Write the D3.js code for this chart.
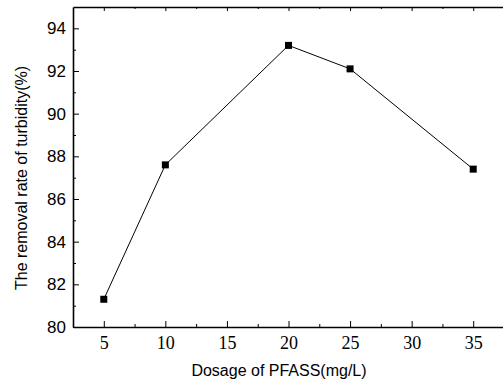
<!DOCTYPE html>
<html>
<head>
<meta charset="utf-8">
<script src="https://cdn.jsdelivr.net/npm/d3@7"></script>
<style>
  body { margin: 0; background: #fff; }
  svg { display: block; }
</style>
</head>
<body>
<div id="chart"></div>
<script>
const dosage = [5, 10, 20, 25, 35];
const removal = [81.3, 87.6, 93.2, 92.1, 87.4];
const xTicks = [5, 10, 15, 20, 25, 30, 35];
const xMinor = [7.5, 12.5, 17.5, 22.5, 27.5, 32.5];
const yTicks = [80, 82, 84, 86, 88, 90, 92, 94];
const yMinor = [81, 83, 85, 87, 89, 91, 93];

const width = 503, height = 383;
const margin = { top: 7, right: -1, bottom: 56, left: 73 };
const innerW = width - margin.left - margin.right;
const innerH = height - margin.top - margin.bottom;

const svg = d3.select("#chart").append("svg")
  .attr("width", width).attr("height", height);

const g = svg.append("g")
  .attr("transform", `translate(${margin.left},${margin.top})`);

const x = d3.scaleLinear().domain([2.5, 37.5]).range([0, innerW]);
const y = d3.scaleLinear().domain([80, 95]).range([innerH, 0]);

// bottom axis, ticks pointing in
const xAxis = g.append("g").attr("transform", `translate(0,${innerH})`)
  .call(d3.axisBottom(x).tickValues(xTicks).tickSizeInner(-6).tickSizeOuter(0).tickPadding(9));
xAxis.selectAll("text")
  .style("font-family", "'Liberation Serif', 'Times New Roman', serif")
  .style("font-size", "18px").attr("fill", "#000");

g.append("g").attr("transform", `translate(0,${innerH})`)
  .call(d3.axisBottom(x).tickValues(xMinor).tickSizeInner(-3).tickSizeOuter(0).tickFormat(""))
  .select(".domain").remove();

// top axis (no labels)
g.append("g")
  .call(d3.axisTop(x).tickValues(xTicks).tickSizeInner(-4).tickSizeOuter(0).tickFormat(""));
g.append("g")
  .call(d3.axisTop(x).tickValues(xMinor).tickSizeInner(-2).tickSizeOuter(0).tickFormat(""))
  .select(".domain").remove();

// left axis
const yAxis = g.append("g")
  .call(d3.axisLeft(y).tickValues(yTicks).tickSizeInner(-6).tickSizeOuter(0).tickPadding(7));
yAxis.selectAll("text")
  .style("font-family", "'Liberation Sans', Arial, sans-serif")
  .style("font-size", "17px").attr("fill", "#000");

g.append("g")
  .call(d3.axisLeft(y).tickValues(yMinor).tickSizeInner(-3).tickSizeOuter(0).tickFormat(""))
  .select(".domain").remove();

g.selectAll(".domain").attr("stroke", "#000").attr("stroke-width", 1.6);
g.selectAll(".tick line").attr("stroke", "#000").attr("stroke-width", 1);

// data
const pts = dosage.map((d, i) => ({ x: d, y: removal[i] }));

const line = d3.line().x(d => x(d.x)).y(d => y(d.y));

g.append("path")
  .datum(pts)
  .attr("fill", "none")
  .attr("stroke", "#000")
  .attr("stroke-width", 1)
  .attr("d", line);

const s = 7;
g.selectAll(".pt")
  .data(pts)
  .join("rect")
  .attr("class", "pt")
  .attr("x", d => x(d.x) - s / 2)
  .attr("y", d => y(d.y) - s / 2)
  .attr("width", s).attr("height", s)
  .attr("fill", "#000");

// titles
svg.append("text")
  .attr("x", 279).attr("y", 376)
  .attr("text-anchor", "middle")
  .style("font-family", "'Liberation Sans', Arial, sans-serif")
  .style("font-size", "16px")
  .text("Dosage of PFASS(mg/L)");

svg.append("text")
  .attr("transform", "rotate(-90)")
  .attr("x", -178).attr("y", 27)
  .attr("text-anchor", "middle")
  .style("font-family", "'Liberation Sans', Arial, sans-serif")
  .style("font-size", "16px")
  .text("The removal rate of turbidity(%)");
</script>
</body>
</html>
